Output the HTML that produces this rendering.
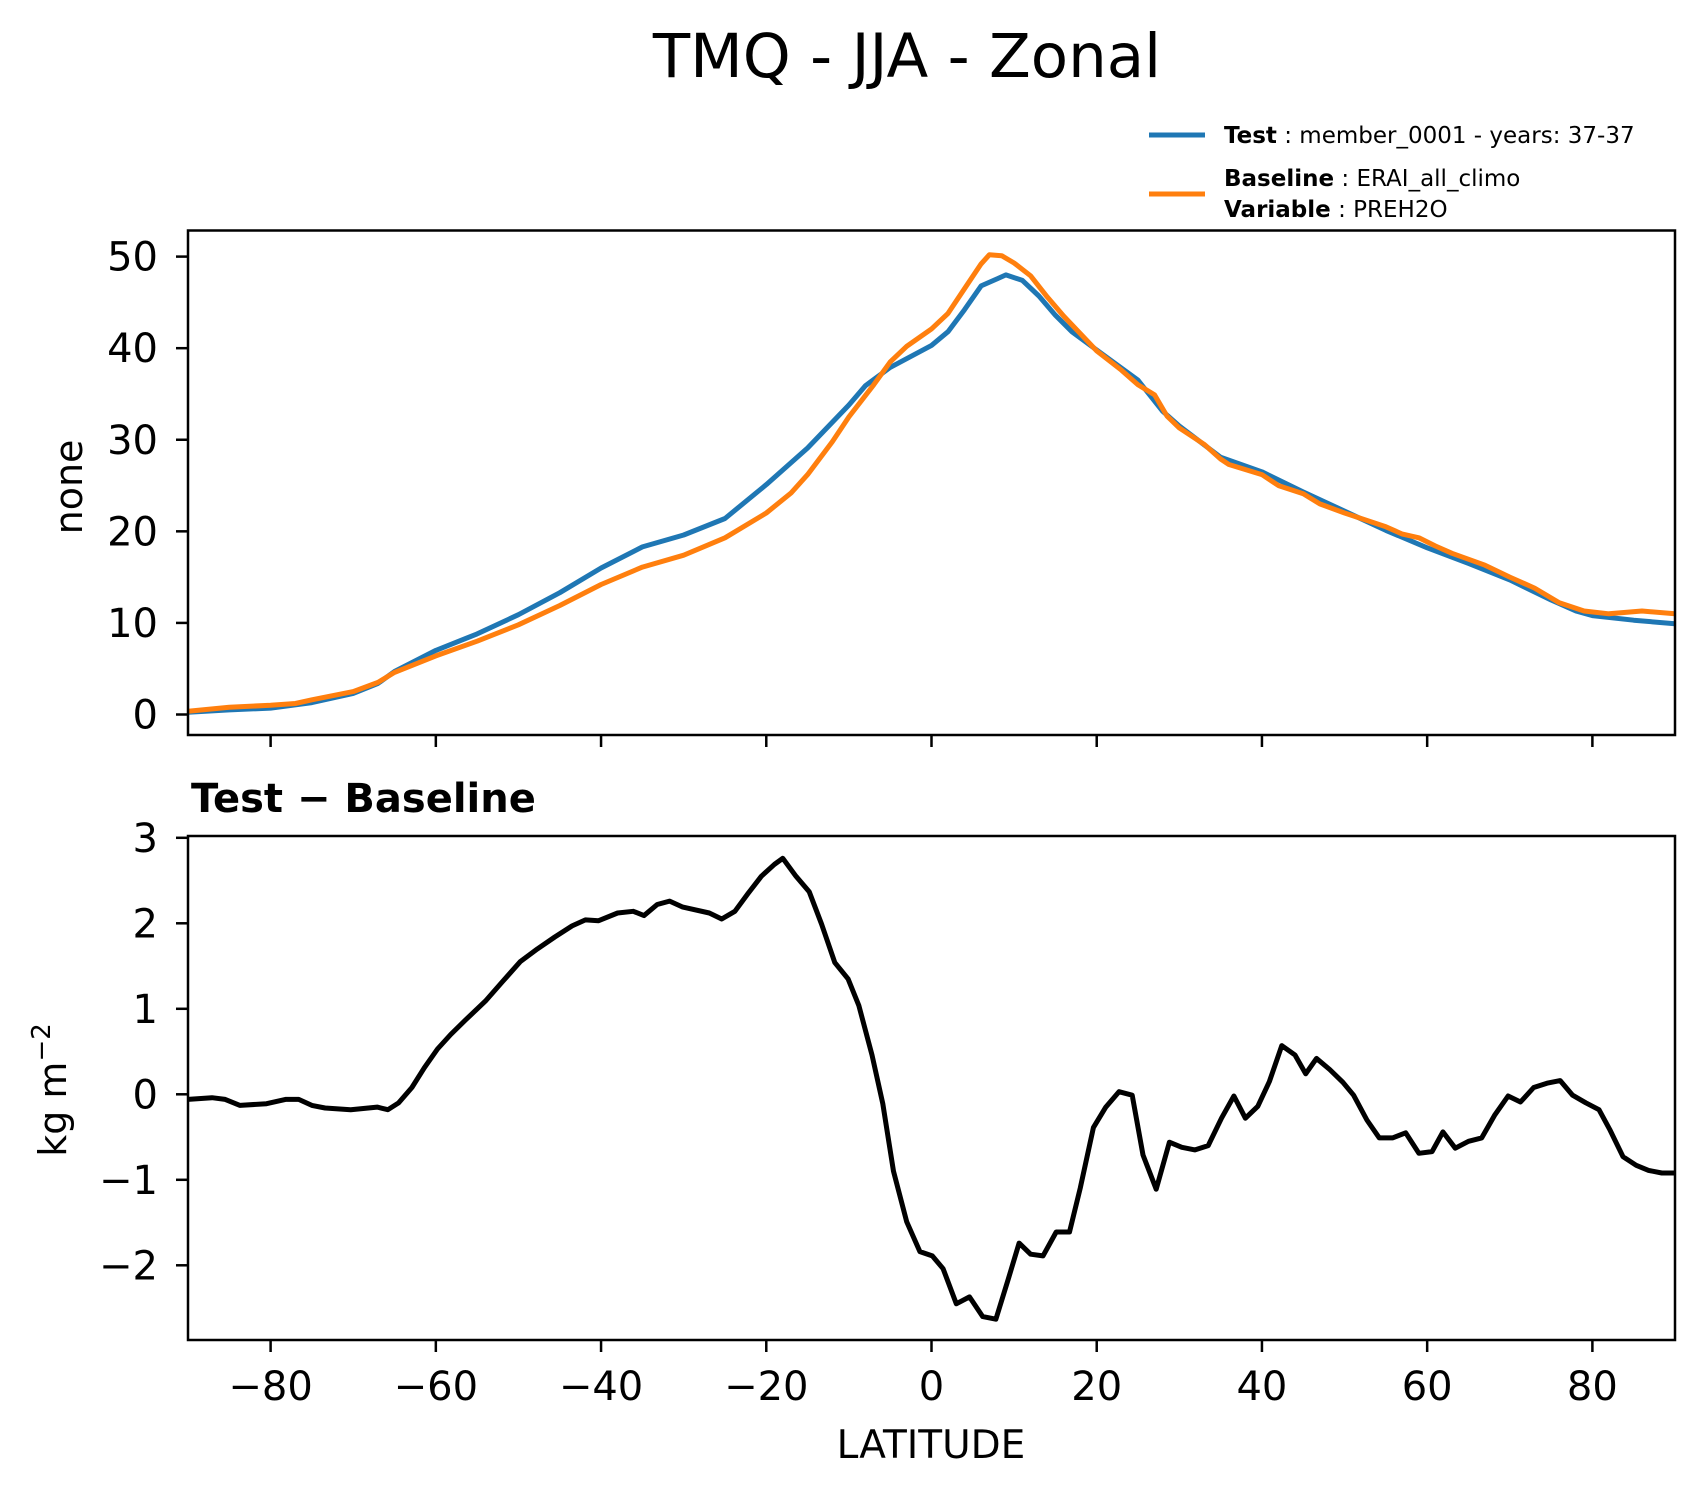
<!DOCTYPE html>
<html><head><meta charset="utf-8"><style>
html,body{margin:0;padding:0;background:#fff;}
svg{display:block;font-family:"DejaVu Sans","Liberation Sans",sans-serif;}
</style></head><body>
<svg id="fig" width="1705" height="1496" viewBox="0 0 1705 1496" xmlns="http://www.w3.org/2000/svg">
<rect width="1705" height="1496" fill="#fff"/>
<text x="907" y="77" font-size="61" text-anchor="middle">TMQ - JJA - Zonal</text>
<g>
  <line x1="1149" y1="135" x2="1205" y2="135" stroke="#1f77b4" stroke-width="5"/>
  <text x="1224" y="143" font-size="23"><tspan font-weight="bold">Test</tspan> : member_0001 - years: 37-37</text>
  <line x1="1149" y1="194" x2="1205" y2="194" stroke="#ff7f0e" stroke-width="5"/>
  <text x="1224" y="186" font-size="23"><tspan font-weight="bold">Baseline</tspan> : ERAI_all_climo</text>
  <text x="1224" y="217" font-size="23"><tspan font-weight="bold">Variable</tspan> : PREH2O</text>
</g>
<g id="topPanel"></g>
<g id="botPanel"></g>
<text x="191" y="812" font-size="40" font-weight="bold">Test − Baseline</text>
<text transform="translate(82,487) rotate(-90)" font-size="38" text-anchor="middle">none</text>
<text transform="translate(66,1090) rotate(-90)" font-size="38" text-anchor="middle">kg m<tspan font-size="26" dy="-16">−2</tspan></text>
<text x="931" y="1458" font-size="39" text-anchor="middle">LATITUDE</text>
</svg>
<script>
const testLat = [-90,-85,-80,-75,-70,-67,-65,-60,-55,-50,-45,-40,-35,-30,-25,-20,-15,-10,-8,-5,0,2,4,6,8,9,11,13,15,17,20,25,28,30,35,40,45,50,55,60,65,70,75,78,80,85,90];
const testVal = [0.25,0.5,0.7,1.3,2.3,3.4,4.7,7.0,8.8,10.9,13.3,16.0,18.3,19.6,21.4,25.1,29.1,33.8,35.9,37.9,40.3,41.8,44.2,46.8,47.6,48.0,47.4,45.7,43.6,41.8,39.8,36.5,33.1,31.5,28.1,26.5,24.3,22.2,20.1,18.2,16.5,14.7,12.5,11.3,10.8,10.3,9.9];
const baseLat = [-90,-85,-80,-77,-75,-70,-67,-65,-60,-55,-50,-45,-40,-35,-30,-25,-20,-17,-15,-12,-10,-7,-5,-3,0,2,4,6,7,8.5,10,12,14,16,20,23,25,27,28.5,30,33,35,36,40,42,45,47,50,55,57,59,61,63,67,70,73,76,79,82,86,90];
const baseVal = [0.35,0.8,1.0,1.2,1.6,2.5,3.5,4.6,6.4,8.0,9.8,11.9,14.2,16.1,17.4,19.3,22.0,24.2,26.2,29.8,32.5,36.0,38.5,40.2,42.1,43.8,46.5,49.2,50.2,50.1,49.3,47.9,45.6,43.5,39.7,37.6,36.0,34.9,32.6,31.3,29.5,27.9,27.3,26.2,25.0,24.1,23.0,22.0,20.5,19.7,19.3,18.4,17.6,16.3,15.0,13.8,12.2,11.3,11.0,11.3,11.0];
const diffLat = [-90,-87.1,-85.5,-83.7,-80.5,-78.2,-76.6,-75,-73.4,-70.3,-67.1,-65.8,-64.5,-62.9,-61.4,-59.8,-58.2,-56.4,-54,-51.9,-49.8,-47.7,-45.6,-43.5,-41.9,-40.3,-38,-36.1,-34.8,-33.2,-31.7,-30.1,-26.9,-25.4,-23.8,-22.2,-20.6,-19,-18,-16.4,-14.8,-13.3,-11.7,-10.1,-8.8,-7.2,-5.9,-4.6,-3,-1.4,0.1,1.4,3,4.6,6.2,7.8,9.3,10.6,12,13.5,15.1,16.7,18,19.6,21.1,22.7,24.3,25.6,27.2,28.8,30.3,31.9,33.5,35.1,36.6,38,39.5,40.9,42.4,44,45.3,46.6,48.2,49.8,51.1,52.7,54.2,55.8,57.4,59,60.6,61.9,63.4,65,66.6,68.2,69.8,71.3,72.9,74.5,76.1,77.6,79.2,80.8,82.1,83.7,85.3,86.8,88.4,90];
const diffVal = [-0.06,-0.04,-0.06,-0.13,-0.11,-0.06,-0.06,-0.13,-0.16,-0.18,-0.15,-0.18,-0.1,0.08,0.31,0.53,0.70,0.87,1.09,1.32,1.55,1.70,1.84,1.97,2.04,2.03,2.12,2.14,2.09,2.22,2.26,2.19,2.12,2.05,2.14,2.35,2.55,2.69,2.76,2.55,2.37,1.99,1.54,1.35,1.04,0.46,-0.11,-0.90,-1.49,-1.84,-1.89,-2.04,-2.45,-2.37,-2.60,-2.63,-2.16,-1.74,-1.87,-1.89,-1.61,-1.61,-1.10,-0.39,-0.15,0.03,-0.01,-0.71,-1.11,-0.56,-0.62,-0.65,-0.60,-0.28,-0.02,-0.28,-0.14,0.15,0.57,0.46,0.24,0.42,0.29,0.14,-0.01,-0.30,-0.51,-0.51,-0.45,-0.69,-0.67,-0.44,-0.63,-0.55,-0.51,-0.24,-0.02,-0.09,0.08,0.13,0.16,-0.01,-0.10,-0.18,-0.41,-0.73,-0.83,-0.89,-0.92,-0.92];
const xTicks = [-80,-60,-40,-20,0,20,40,60,80];
const topYTicks = [0,10,20,30,40,50];
const botYTicks = [-2,-1,0,1,2,3];

const NS = "http://www.w3.org/2000/svg";
const AX_L = 188, AX_R = 1675;
const xs = v => AX_L + (v + 90) / 180 * (AX_R - AX_L);
const topY = v => 714.5 - v * 9.158;
const botY = v => 1094.3 - v * 85.5;
function mk(parent, tag, attrs) {
  const e = document.createElementNS(NS, tag);
  for (const k in attrs) e.setAttribute(k, attrs[k]);
  parent.appendChild(e);
  return e;
}
function fmt(v) { return v < 0 ? "−" + Math.abs(v) : String(v); }
function panel(g, y0, y1, ys, yTicks, showXLabels) {
  yTicks.forEach(t => {
    const tk = mk(g, "line", {x1: AX_L - 12, x2: AX_L, y1: ys(t), y2: ys(t), stroke: "#000", "stroke-width": 2.5});
    
    
    const tx = mk(g, "text", {x: 158, y: ys(t) + 14, "font-size": 40, "text-anchor": "end"});
    tx.textContent = fmt(t);
    
    
  });
  xTicks.forEach(t => {
    const tk = mk(g, "line", {x1: xs(t), x2: xs(t), y1: y1, y2: y1 + 12, stroke: "#000", "stroke-width": 2.5});
    
    
    if (showXLabels) {
      const tx = mk(g, "text", {x: xs(t), y: 1400, "font-size": 40, "text-anchor": "middle"});
      tx.textContent = fmt(t);
      
      
    }
  });
}
function series(g, lat, val, ys, color, name) {
  const d = lat.map((x, i) => (i ? "L" : "M") + xs(x).toFixed(1) + "," + ys(val[i]).toFixed(1)).join(" ");
  const p = mk(g, "path", {d: d, fill: "none", stroke: color, "stroke-width": 5, "stroke-linejoin": "round"});
  
  
}
function frame(g, y0, y1) {
  const r = mk(g, "rect", {x: AX_L, y: y0, width: AX_R - AX_L, height: y1 - y0, fill: "none", stroke: "#000", "stroke-width": 2.5});
  
  
}
const figEl = document.getElementById("fig");
const topG = document.getElementById("topPanel");
const botG = document.getElementById("botPanel");
const defsEl = mk(figEl, "defs", {});
const clipT = mk(defsEl, "clipPath", {id: "ct"});
mk(clipT, "rect", {x: AX_L, y: 230.5, width: AX_R - AX_L, height: 504.5});
const clipB = mk(defsEl, "clipPath", {id: "cb"});
mk(clipB, "rect", {x: AX_L, y: 836, width: AX_R - AX_L, height: 504});
panel(topG, 230.5, 735, topY, topYTicks, false);
const tg = mk(topG, "g", {"clip-path": "url(#ct)"});
series(tg, testLat, testVal, topY, "#1f77b4", "test-line");
series(tg, baseLat, baseVal, topY, "#ff7f0e", "baseline-line");
frame(topG, 230.5, 735);
panel(botG, 836, 1340, botY, botYTicks, true);
const bg = mk(botG, "g", {"clip-path": "url(#cb)"});
series(bg, diffLat, diffVal, botY, "#000", "difference-line");
frame(botG, 836, 1340);
</script>
</body></html>
